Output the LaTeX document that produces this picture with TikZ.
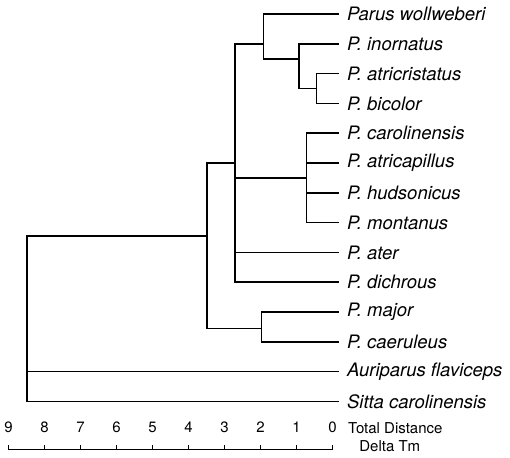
\documentclass[tikz,border=0pt]{standalone}
\usepackage{fontspec}
\setmainfont{TeX Gyre Heros}
\usetikzlibrary{positioning}

\begin{document}
\begin{tikzpicture}[x=-36pt, y=-29.8pt,
   branch/.style={line width=1.6pt, line cap=rect},
   taxon/.style={anchor=west, inner sep=0pt, font=\fontsize{18.5}{20}\selectfont\itshape},
   scalelbl/.style={inner sep=0pt, font=\fontsize{15}{16}\selectfont}]
  \useasboundingbox (9.236,-0.47) rectangle (-4.93,14.87);
  % leaves: tip of the branch and the species name
  \foreach \name/\row/\txt in {wol/0/Parus wollweberi, ino/1/P. inornatus,
      atc/2/P. atricristatus, bic/3/P. bicolor, car/4/P. carolinensis,
      atp/5/P. atricapillus, hud/6/P. hudsonicus, mon/7/P. montanus,
      ate/8/P. ater, dic/9/P. dichrous, maj/10/P. major, cae/11/P. caeruleus,
      aur/12/Auriparus flaviceps, sit/13/Sitta carolinensis}{
    \coordinate (t-\name) at (-0.15,\row);
    \node[taxon] (\name) at (-0.4,\row) {\txt};
  }
  % inner nodes at (distance, row)
  \coordinate (root) at (8.49,12);
  \coordinate (nA) at (3.48,7.44);
  \coordinate (nB) at (2.71,5);
  \coordinate (nC) at (1.92,1);
  \coordinate (nE) at (0.93,1.5);
  \coordinate (nF) at (0.44,2.5);
  \coordinate (nD) at (0.72,5.5);
  \coordinate (nG) at (1.97,10.55);

  \draw[branch] (root) |- (nA)  (root) |- (t-aur)  (root) |- (t-sit);
  \draw[branch] (nA) |- (nB)  (nA) |- (nG);
  \draw[branch] (nB) |- (nC)  (nB) |- (nD)  (nB) |- (t-ate)  (nB) |- (t-dic);
  \draw[branch] (nC) |- (t-wol)  (nC) |- (nE);
  \draw[branch] (nE) |- (t-ino)  (nE) |- (nF);
  \draw[branch] (nF) |- (t-atc)  (nF) |- (t-bic);
  \draw[branch] (nD) |- (t-car)  (nD) |- (t-atp)  (nD) |- (t-hud)  (nD) |- (t-mon);
  \draw[branch] (nG) |- (t-maj)  (nG) |- (t-cae);

  % distance scale
  \foreach \d in {0,...,9}{
    \coordinate (s\d) at (\d,14.62);
    \draw[line width=1.2pt] (s\d) -- ++(0,-0.17);
    \node[scalelbl] (l\d) at (\d,13.86) {\d};
  }
  \draw[line width=1.2pt] (s9) -- (s0);
  \node[scalelbl, anchor=west] (total) at (-0.43,13.9) {Total Distance};
  \node[scalelbl, anchor=west] (delta) at (-0.74,14.5) {Delta Tm};
\end{tikzpicture}
\end{document}
